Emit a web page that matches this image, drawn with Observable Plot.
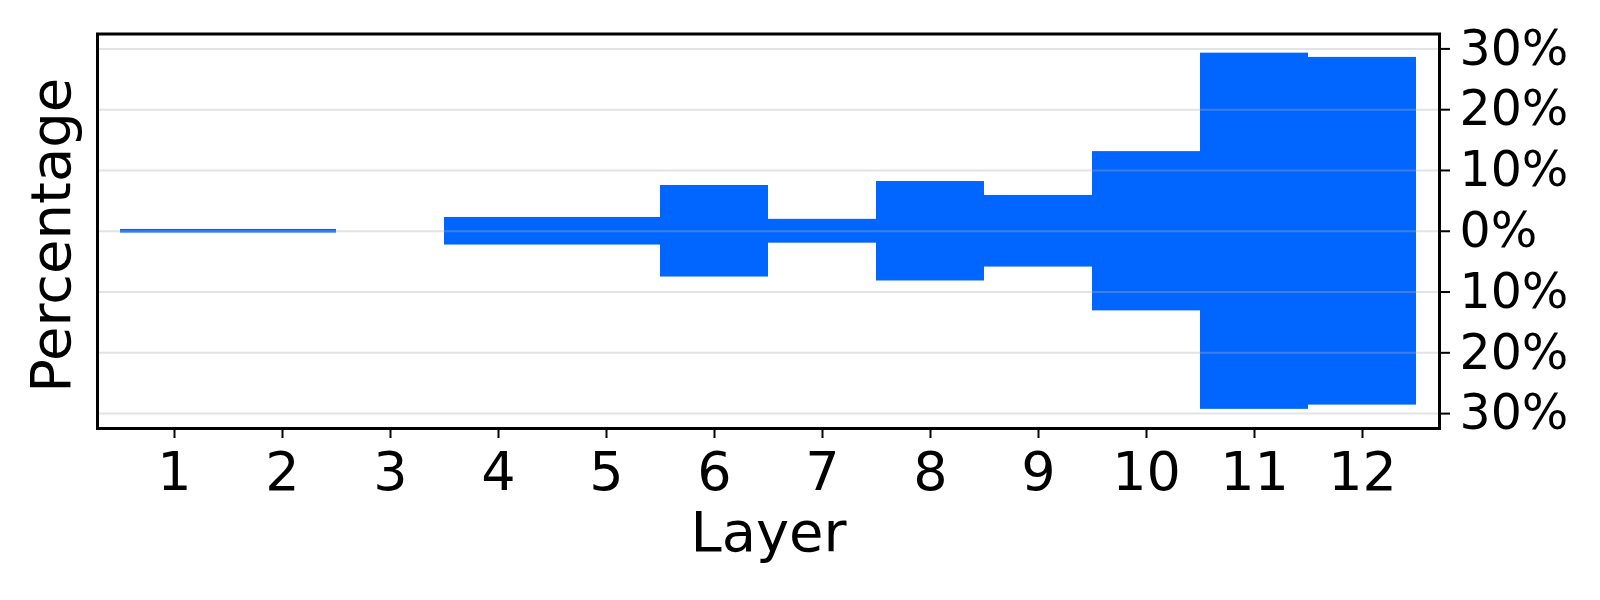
<!DOCTYPE html>
<html><head><meta charset="utf-8">
<script src="https://cdn.jsdelivr.net/npm/d3@7"></script>
<script src="https://cdn.jsdelivr.net/npm/@observablehq/plot@0.6"></script>
<style>body{margin:0;background:#fff}</style>
</head><body><div id="chart"></div>
<script>
const layers = [1, 2, 3, 4, 5, 6, 7, 8, 9, 10, 11, 12];
const percentages = [0.3, 0.3, 0, 2.27, 2.27, 7.53, 1.96, 8.18, 5.89, 13.1, 29.3, 28.6];
const yTicks = [-30, -20, -10, 0, 10, 20, 30];
const xLabel = "Layer";
const yLabel = "Percentage";

const data = layers.map((l, i) => ({layer: l, value: percentages[i]}));

const chart = Plot.plot({
  width: 1600, height: 600,
  marginLeft: 97, marginRight: 161, marginTop: 33.5, marginBottom: 172,
  style: {fontFamily: "DejaVu Sans", background: "white", color: "black"},
  x: {type: "band", domain: layers, paddingInner: 0, paddingOuter: 0.2},
  y: {domain: [-32.45, 32.45]},
  marks: [
    Plot.barY(data, {x: "layer", y1: d => -d.value, y2: d => d.value, fill: "#0066ff"}),
    Plot.gridY(yTicks, {stroke: "#b0b0b0", strokeOpacity: 0.35, strokeWidth: 2}),
    Plot.frame({stroke: "black", strokeWidth: 3}),
    Plot.axisX({tickSize: 10, tickPadding: 13, fontSize: 54, strokeWidth: 2, label: null}),
    Plot.axisY(yTicks, {anchor: "right", tickSize: 10, tickPadding: 10, fontSize: 49, strokeWidth: 2,
      tickFormat: d => Math.abs(d) + "%", label: null}),
    Plot.text([yLabel], {text: d => d, frameAnchor: "left", textAnchor: "middle", lineAnchor: "middle",
      rotate: -90, dx: -45, dy: 4, fontSize: 56}),
    Plot.text([xLabel], {text: d => d, frameAnchor: "bottom", textAnchor: "middle", lineAnchor: "middle",
      dy: 105, fontSize: 56})
  ]
});
document.getElementById("chart").append(chart);
</script>
</body></html>
